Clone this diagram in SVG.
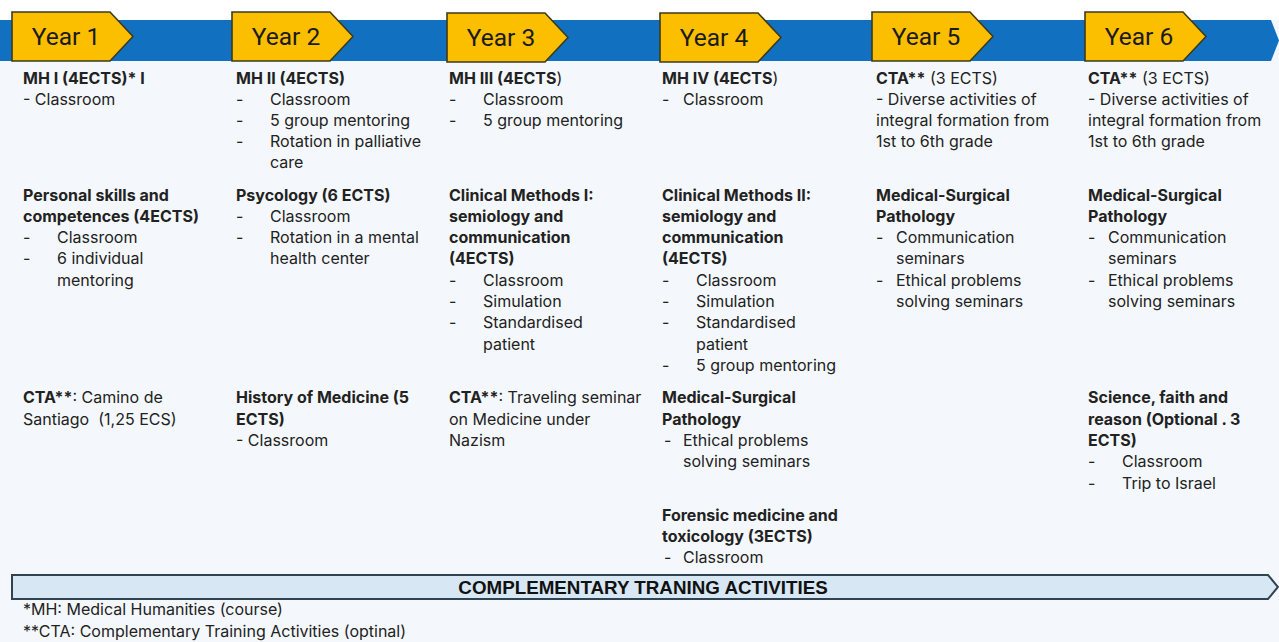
<svg xmlns="http://www.w3.org/2000/svg" width="1279" height="642" viewBox="0 0 1279 642">
  <style>
    .t { font-family: Inter, "Liberation Sans", Arial, sans-serif; font-size: 16px; fill: #222; }
    .b { font-weight: 700; }
    .yr { font-family: Roboto, "Liberation Sans", Arial, sans-serif; font-size: 24.5px; fill: #1a1a1a; text-anchor: middle; }
    .tag { fill: #fcbf00; stroke: #3b3a1e; stroke-width: 1.6; stroke-linejoin: miter; }
    .band { fill: #d7e7f3; stroke: #2f4352; stroke-width: 2; }
    .bandtxt { font-family: "Liberation Sans", Arial, sans-serif; font-size: 18.8px; font-weight: 700; fill: #111; text-anchor: middle; }
  </style>

  <!-- page background -->
  <rect x="0" y="0" width="1279" height="642" fill="#f4f8fc"/>
  <rect x="0" y="0" width="1279" height="20" fill="#ffffff"/>

  <!-- timeline bar -->
  <g id="timeline">
    <polygon points="0,20 1271,20 1279,40.5 1271,61 0,61" fill="#1270c1"/>
  </g>

  <!-- year tags -->
  <g id="year1"><polygon class="tag" points="12,12 110,12 133,36.5 110,61 12,61"/><text class="yr" x="66" y="45">Year 1</text></g>
  <g id="year2"><polygon class="tag" points="232,12 330,12 353,36.5 330,61 232,61"/><text class="yr" x="286" y="45">Year 2</text></g>
  <g id="year3"><polygon class="tag" points="447,13 545,13 568,37.5 545,62 447,62"/><text class="yr" x="501" y="46">Year 3</text></g>
  <g id="year4"><polygon class="tag" points="660,13 758,13 781,37.5 758,62 660,62"/><text class="yr" x="714" y="46">Year 4</text></g>
  <g id="year5"><polygon class="tag" points="872,12 970,12 993,36.5 970,61 872,61"/><text class="yr" x="926" y="45">Year 5</text></g>
  <g id="year6"><polygon class="tag" points="1085,12 1183,12 1206,36.5 1183,61 1085,61"/><text class="yr" x="1139" y="45">Year 6</text></g>

  <!-- Year 1 column -->
  <g id="col1" class="t">
    <text class="t b" x="23" y="84">MH I (4ECTS)* I</text>
    <text class="t" x="23" y="105">- Classroom</text>
    <text class="t b" x="23" y="201">Personal skills and</text>
    <text class="t b" x="23" y="222">competences (4ECTS)</text>
    <text class="t" x="23" y="243">-</text><text class="t" x="57" y="243">Classroom</text>
    <text class="t" x="23" y="264">-</text><text class="t" x="57" y="264">6 individual</text>
    <text class="t" x="57" y="286">mentoring</text>
    <text class="t" x="23" y="403"><tspan class="b">CTA**</tspan>: Camino de</text>
    <text class="t" x="23" y="425" xml:space="preserve">Santiago  (1,25 ECS)</text>
  </g>

  <!-- Year 2 column -->
  <g id="col2" class="t">
    <text class="t b" x="236" y="84">MH II (4ECTS)</text>
    <text class="t" x="236" y="105">-</text><text class="t" x="270" y="105">Classroom</text>
    <text class="t" x="236" y="126">-</text><text class="t" x="270" y="126">5 group mentoring</text>
    <text class="t" x="236" y="147">-</text><text class="t" x="270" y="147">Rotation in palliative</text>
    <text class="t" x="270" y="168">care</text>
    <text class="t b" x="236" y="201">Psycology (6 ECTS)</text>
    <text class="t" x="236" y="222">-</text><text class="t" x="270" y="222">Classroom</text>
    <text class="t" x="236" y="243">-</text><text class="t" x="270" y="243">Rotation in a mental</text>
    <text class="t" x="270" y="264">health center</text>
    <text class="t b" x="236" y="403">History of Medicine (5</text>
    <text class="t b" x="236" y="425">ECTS)</text>
    <text class="t" x="236" y="446">- Classroom</text>
  </g>

  <!-- Year 3 column -->
  <g id="col3" class="t">
    <text class="t" x="449" y="84"><tspan class="b">MH III (4ECTS</tspan>)</text>
    <text class="t" x="449" y="105">-</text><text class="t" x="483" y="105">Classroom</text>
    <text class="t" x="449" y="126">-</text><text class="t" x="483" y="126">5 group mentoring</text>
    <text class="t b" x="449" y="201">Clinical Methods I:</text>
    <text class="t b" x="449" y="222">semiology and</text>
    <text class="t b" x="449" y="243">communication</text>
    <text class="t b" x="449" y="264">(4ECTS)</text>
    <text class="t" x="449" y="286">-</text><text class="t" x="483" y="286">Classroom</text>
    <text class="t" x="449" y="307">-</text><text class="t" x="483" y="307">Simulation</text>
    <text class="t" x="449" y="328">-</text><text class="t" x="483" y="328">Standardised</text>
    <text class="t" x="483" y="350">patient</text>
    <text class="t" x="449" y="403"><tspan class="b">CTA**</tspan>: Traveling seminar</text>
    <text class="t" x="449" y="425">on Medicine under</text>
    <text class="t" x="449" y="446">Nazism</text>
  </g>

  <!-- Year 4 column -->
  <g id="col4" class="t">
    <text class="t" x="662" y="84"><tspan class="b">MH IV (4ECTS</tspan>)</text>
    <text class="t" x="662" y="105">-</text><text class="t" x="683" y="105">Classroom</text>
    <text class="t b" x="662" y="201">Clinical Methods II:</text>
    <text class="t b" x="662" y="222">semiology and</text>
    <text class="t b" x="662" y="243">communication</text>
    <text class="t b" x="662" y="264">(4ECTS)</text>
    <text class="t" x="662" y="286">-</text><text class="t" x="696" y="286">Classroom</text>
    <text class="t" x="662" y="307">-</text><text class="t" x="696" y="307">Simulation</text>
    <text class="t" x="662" y="328">-</text><text class="t" x="696" y="328">Standardised</text>
    <text class="t" x="696" y="350">patient</text>
    <text class="t" x="662" y="371">-</text><text class="t" x="696" y="371">5 group mentoring</text>
    <text class="t b" x="662" y="403">Medical-Surgical</text>
    <text class="t b" x="662" y="425">Pathology</text>
    <text class="t" x="664" y="446">-</text><text class="t" x="683" y="446">Ethical problems</text>
    <text class="t" x="683" y="467">solving seminars</text>
    <text class="t b" x="662" y="521">Forensic medicine and</text>
    <text class="t b" x="662" y="542">toxicology (3ECTS)</text>
    <text class="t" x="664" y="563">-</text><text class="t" x="683" y="563">Classroom</text>
  </g>

  <!-- Year 5 column -->
  <g id="col5" class="t">
    <text class="t" x="876" y="84"><tspan class="b">CTA**</tspan> (3 ECTS)</text>
    <text class="t" x="876" y="105">- Diverse activities of</text>
    <text class="t" x="876" y="126">integral formation from</text>
    <text class="t" x="876" y="147">1st to 6th grade</text>
    <text class="t b" x="876" y="201">Medical-Surgical</text>
    <text class="t b" x="876" y="222">Pathology</text>
    <text class="t" x="876" y="243">-</text><text class="t" x="896" y="243">Communication</text>
    <text class="t" x="896" y="264">seminars</text>
    <text class="t" x="876" y="286">-</text><text class="t" x="896" y="286">Ethical problems</text>
    <text class="t" x="896" y="307">solving seminars</text>
  </g>

  <!-- Year 6 column -->
  <g id="col6" class="t">
    <text class="t" x="1088" y="84"><tspan class="b">CTA**</tspan> (3 ECTS)</text>
    <text class="t" x="1088" y="105">- Diverse activities of</text>
    <text class="t" x="1088" y="126">integral formation from</text>
    <text class="t" x="1088" y="147">1st to 6th grade</text>
    <text class="t b" x="1088" y="201">Medical-Surgical</text>
    <text class="t b" x="1088" y="222">Pathology</text>
    <text class="t" x="1088" y="243">-</text><text class="t" x="1108" y="243">Communication</text>
    <text class="t" x="1108" y="264">seminars</text>
    <text class="t" x="1088" y="286">-</text><text class="t" x="1108" y="286">Ethical problems</text>
    <text class="t" x="1108" y="307">solving seminars</text>
    <text class="t b" x="1088" y="403">Science, faith and</text>
    <text class="t b" x="1088" y="425">reason (Optional . 3</text>
    <text class="t b" x="1088" y="446">ECTS)</text>
    <text class="t" x="1088" y="467">-</text><text class="t" x="1122" y="467">Classroom</text>
    <text class="t" x="1088" y="489">-</text><text class="t" x="1122" y="489">Trip to Israel</text>
  </g>

  <!-- complementary activities band -->
  <g id="cta-band">
    <polygon class="band" points="12,575 1268,575 1278,587 1268,599 12,599"/>
    <text class="bandtxt" x="643" y="593.5">COMPLEMENTARY TRANING ACTIVITIES</text>
  </g>

  <!-- footnotes -->
  <g id="notes" class="t">
    <text class="t" x="23" y="615">*MH: Medical Humanities (course)</text>
    <text class="t" x="23" y="637">**CTA: Complementary Training Activities (optinal)</text>
  </g>
</svg>
